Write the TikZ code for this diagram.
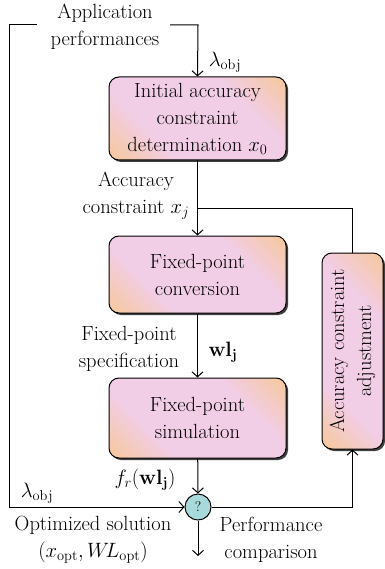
\documentclass[tikz,border=0pt]{standalone}
\usetikzlibrary{arrows.meta,shadows}
\definecolor{mypink}{HTML}{F2CDE6}
\definecolor{myorange}{HTML}{F6C897}
\definecolor{myteal}{HTML}{A8D9DB}
\pgfdeclarehorizontalshading{boxshade}{100bp}{color(0bp)=(myorange); color(14bp)=(myorange); color(33bp)=(mypink); color(67bp)=(mypink); color(86bp)=(myorange); color(100bp)=(myorange)}
\begin{document}
\begin{tikzpicture}[x=1pt,y=-1pt,
  every node/.style={font=\fontsize{20.5}{27}\selectfont, inner sep=0pt},
  box/.style={draw=black, line width=1pt, rounded corners=10pt, shading=boxshade, shading angle=45,
    drop shadow={shadow xshift=2pt, shadow yshift=-2pt, fill=black!75, opacity=1},
    align=center, minimum width=177pt},
  lbl/.style={align=center},
  conn/.style={line width=1pt},
  >={Straight Barb[length=5pt,width=11pt]}]
\useasboundingbox (0,0) rectangle (384,569);
\node[box, minimum height=83pt] (b1) at (197.5,118.5) {Initial accuracy\\constraint\\determination $x_0$};
\node[box, minimum height=77pt] (b2) at (197.5,274.5) {Fixed-point\\conversion};
\node[box, minimum height=80pt] (b3) at (197.5,418) {Fixed-point\\simulation};
\node[box, minimum width=196pt, minimum height=61pt, rotate=90] (b4) at (352.5,351) {Accuracy constraint\\adjustment};
\node[draw=black, line width=1pt, circle, fill=myteal, minimum size=26pt, font=\fontsize{14}{16}\selectfont] (c) at (198,507) {?};

\coordinate (ta) at (37,25);
\coordinate (tl) at (9,25);
\coordinate (tb) at (170,25);
\coordinate (tr) at (198,25);
\coordinate (fj) at (198,208);
\coordinate (out) at (198,556);

\node[lbl] (app) at (105,27) {Application\\performances};
\node[lbl] (l1) at (225,62) {$\lambda_{\mathrm{obj}}$};
\node[lbl] (acc) at (136,196) {Accuracy\\constraint $x_j$};
\node[lbl] (fps) at (129,349) {Fixed-point\\specification};
\node[lbl] (wl) at (223,352) {$\mathbf{wl}_{\mathbf{j}}$};
\node[lbl] (fr) at (145,480) {$f_r(\mathbf{wl}_{\mathbf{j}})$};
\node[lbl] (l2) at (37,493) {$\lambda_{\mathrm{obj}}$};
\node[lbl] (opt) at (93,540) {Optimized solution\\$(x_{\mathrm{opt}}, W\!L_{\mathrm{opt}})$};
\node[lbl] (perf) at (271,540) {Performance\\comparison};

\draw[conn,->] (ta) -- (tl) |- (c.west);
\draw[conn,->] (tb) -- (tr) -- (b1.north);
\draw[conn,->] (b1) -- (b2);
\draw[conn] (fj) -| (b4.east);
\draw[conn,->] (b2) -- (b3);
\draw[conn,->] (b3) -- (c);
\draw[conn,->] (c) -| (b4.west);
\draw[conn,->] (c) -- (out);
\end{tikzpicture}
\end{document}
